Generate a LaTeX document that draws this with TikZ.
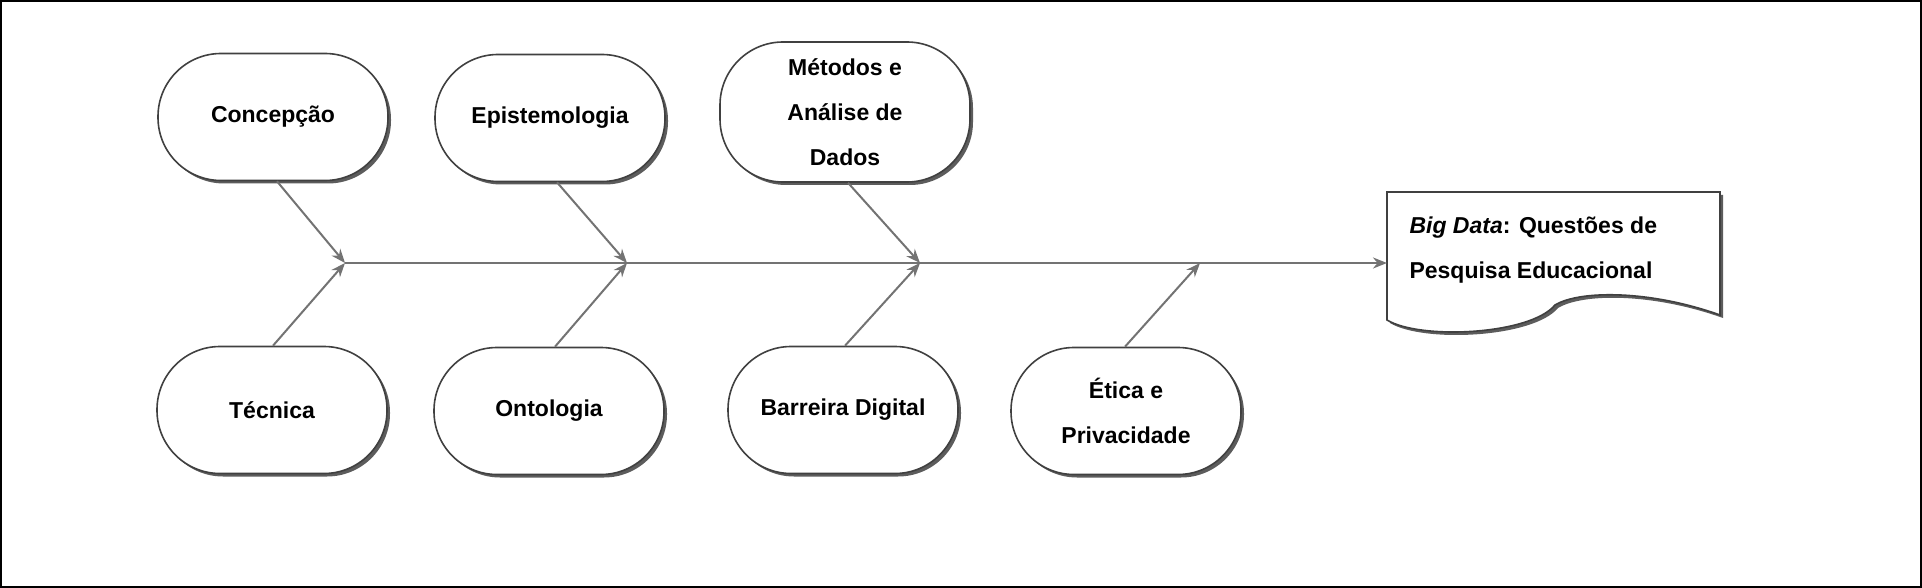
\documentclass[tikz,border=0pt]{standalone}
\usepackage{fontspec}
\setmainfont{Liberation Sans}
\usetikzlibrary{shadows,arrows.meta}
\tikzset{
  pill/.style={draw=black!75, line width=1.6pt, fill=white, rounded corners=63pt,
    minimum width=230pt, minimum height=127pt, align=center,
    font=\fontsize{23}{45}\selectfont\bfseries,
    drop shadow={shadow xshift=3pt, shadow yshift=-3pt, fill=black!80, opacity=0.8}},
  bone/.style={draw=black!55, line width=2pt, -{Stealth[length=14pt,width=11pt]}},
}
\begin{document}
\begin{tikzpicture}[x=1pt,y=-1pt]
  \useasboundingbox (0,0) rectangle (1922,588);
  \draw[line width=2pt] (1,1) rectangle (1921,587);
  % causes above the spine
  \node[pill] (concepcao) at (273,117) {Concepção};
  \node[pill] (episte) at (550,118) {Epistemologia};
  \node[pill, minimum width=250pt, minimum height=140pt] (metodos) at (845,112) {Métodos e\\Análise de\\Dados};
  % causes below the spine
  \node[pill] (tecnica) at (272,410) {Técnica};
  \node[pill] (ontologia) at (549,411) {Ontologia};
  \node[pill] (barreira) at (843,410) {Barreira Digital};
  \node[pill] (etica) at (1126,411) {Ética e\\Privacidade};
  % effect
  \coordinate (d1) at (1387,192);
  \coordinate (d2) at (1720,192);
  \coordinate (d3) at (1720,315);
  \coordinate (d4) at (1387,320);
  \draw[draw=black!75, line width=1.6pt, fill=white,
    drop shadow={shadow xshift=3pt, shadow yshift=-3pt, fill=black!80, opacity=0.8}]
    (d1) -- (d2) -- (d3) .. controls (1650,290) and (1580,290) .. (1555,305)
    .. controls (1530,335) and (1420,340) .. (d4) -- cycle;
  \node[anchor=west, align=left, font=\fontsize{23}{45}\selectfont\bfseries] (efeito) at (1406,250)
    {\textit{Big Data}: Questões de\\Pesquisa Educacional};
  % spine and bones
  \coordinate (j1) at (345,263);
  \coordinate (j2) at (627,263);
  \coordinate (j3) at (920,263);
  \coordinate (j4) at (1200,263);
  \coordinate (docin) at (1387,263);
  \draw[bone] (j1) -- (docin);
  \draw[bone] (concepcao.south -| 277,0) -- (j1);
  \draw[bone] (tecnica.north -| 273,0) -- (j1);
  \draw[bone] (episte.south -| 557,0) -- (j2);
  \draw[bone] (ontologia.north -| 555,0) -- (j2);
  \draw[bone] (metodos.south -| 848,0) -- (j3);
  \draw[bone] (barreira.north -| 845,0) -- (j3);
  \draw[bone] (etica.north -| 1125,0) -- (j4);
\end{tikzpicture}
\end{document}
